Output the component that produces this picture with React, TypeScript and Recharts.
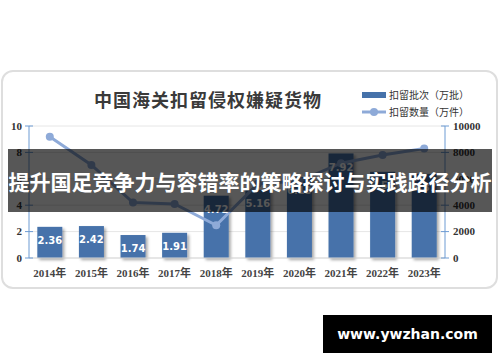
import { ComposedChart, Bar, Line, XAxis, YAxis, CartesianGrid, LabelList } from 'recharts';

const years = ['2014年', '2015年', '2016年', '2017年', '2018年', '2019年', '2020年', '2021年', '2022年', '2023年'];
const batches = [2.36, 2.42, 1.74, 1.91, 4.72, 5.16, 6.13, 7.92, 6.53, 6.37];
const pieces = [9190, 7050, 4200, 4100, 2480, 5620, 5830, 7180, 7800, 8300];
const leftTicks = [0, 2, 4, 6, 8, 10];
const rightTicks = [0, 2000, 4000, 6000, 8000, 10000];

const data = years.map((year, i) => ({ year, batches: batches[i], pieces: pieces[i] }));

const BAR = '#4672aa';
const LINE = '#8eaad8';
const AXIS = '#6d9bd3';
const serif = '"Liberation Serif", "DejaVu Serif", "Noto Sans CJK SC", serif';

const LeftTick = ({ x, y, payload }: any) => (
  <g>
    <line x1={x - 4} x2={x + 4} y1={y} y2={y} stroke={AXIS} />
    <text x={x - 7} y={y} dy="0.35em" textAnchor="end" fontSize={11} fontWeight="bold" fill="#333" fontFamily={serif}>
      {payload.value}
    </text>
  </g>
);

const RightTick = ({ x, y, payload }: any) => (
  <g>
    <line x1={x - 4} x2={x + 4} y1={y} y2={y} stroke={AXIS} />
    <text x={x + 8} y={y} dy="0.35em" textAnchor="start" fontSize={11} fontWeight="bold" fill="#333" fontFamily={serif}>
      {payload.value}
    </text>
  </g>
);

const YearTick = ({ x, y, payload }: any) => (
  <text x={x} y={y + 15} dy="0.35em" textAnchor="middle" fontSize={11} fontWeight="bold" fill="#444" fontFamily={serif}>
    {payload.value}
  </text>
);

const ShadowBar = (props: any) => {
  const { x, y, width, height } = props;
  return <rect x={x} y={y} width={width} height={height} fill={BAR} filter="url(#barShadow)" />;
};

const LegendBox = () => (
  <div
    style={{
      position: 'absolute',
      left: 362,
      top: 86,
      fontFamily: '"Noto Sans CJK SC", sans-serif',
      fontSize: 10,
      color: '#333',
      lineHeight: '17px',
    }}
  >
    <div style={{ display: 'flex', alignItems: 'center' }}>
      <span style={{ display: 'inline-block', width: 24, height: 6, background: BAR, marginRight: 3 }} />
      扣留批次（万批）
    </div>
    <div style={{ display: 'flex', alignItems: 'center' }}>
      <svg width={24} height={10} style={{ marginRight: 3 }}>
        <line x1={0} x2={24} y1={5} y2={5} stroke={LINE} strokeWidth={3} />
        <circle cx={12} cy={5} r={4} fill={LINE} />
      </svg>
      扣留数量（万件）
    </div>
  </div>
);

export default function App() {
  return (
    <div style={{ position: 'absolute', left: 0, top: 0, width: 500, height: 362, background: '#fff', overflow: 'hidden' }}>
      <div
        style={{
          position: 'absolute',
          left: 1,
          top: 70,
          width: 493,
          height: 215,
          border: '2px solid #dedede',
          borderRadius: 12,
        }}
      />
      <div
        style={{
          position: 'absolute',
          left: 93,
          top: 86,
          width: 230,
          textAlign: 'center',
          fontFamily: '"Noto Sans CJK SC", serif',
          fontWeight: 'bold',
          fontSize: 18,
          letterSpacing: 1,
          color: '#3a3a3a',
        }}
      >
        中国海关扣留侵权嫌疑货物
      </div>
      <LegendBox />
      <div style={{ position: 'absolute', left: 0, top: 0 }}>
        <ComposedChart width={500} height={362} data={data} margin={{ top: 126, right: 0, bottom: 74, left: 0 }} barCategoryGap="20%">
          <defs>
            <filter id="barShadow" x="-20%" y="-10%" width="150%" height="130%">
              <feDropShadow dx={2} dy={2} stdDeviation={1.5} floodColor="#000" floodOpacity={0.35} />
            </filter>
          </defs>
          <CartesianGrid vertical={false} stroke="#e6e6e6" yAxisId="left" />
          <XAxis dataKey="year" tickSize={0} tickMargin={0} tick={<YearTick />} stroke="#d9d9d9" height={30} interval={0} />
          <YAxis
            yAxisId="left"
            domain={[0, 10]}
            ticks={leftTicks}
            interval={0}
            width={29}
            tickSize={0}
            tickMargin={0}
            tick={<LeftTick />}
            axisLine={{ stroke: AXIS }}
            tickLine={false}
          />
          <YAxis
            yAxisId="right"
            orientation="right"
            domain={[0, 10000]}
            ticks={rightTicks}
            interval={0}
            width={55}
            tickSize={0}
            tickMargin={0}
            tick={<RightTick />}
            axisLine={{ stroke: AXIS }}
            tickLine={false}
          />
          <Bar yAxisId="left" dataKey="batches" fill={BAR} shape={<ShadowBar />} isAnimationActive={false}>
            <LabelList
              dataKey="batches"
              position="insideTop"
              offset={10}
              fill="#fff"
              fontSize={10}
              fontWeight="bold"
              fontFamily='"DejaVu Sans", sans-serif'
            />
          </Bar>
          <Line
            yAxisId="right"
            dataKey="pieces"
            stroke={LINE}
            strokeWidth={3}
            dot={{ r: 4, fill: LINE, stroke: LINE, strokeWidth: 0 }}
            isAnimationActive={false}
          />
        </ComposedChart>
      </div>
      <div
        style={{
          position: 'absolute',
          left: 8,
          top: 149,
          width: 484,
          height: 63,
          background: 'rgba(0,0,0,0.66)',
          color: '#fff',
          display: 'flex',
          alignItems: 'center',
          justifyContent: 'center',
          fontFamily: '"Noto Sans CJK SC", sans-serif',
          fontWeight: 'bold',
          fontSize: 21,
          whiteSpace: 'nowrap',
        }}
      >
        提升国足竞争力与容错率的策略探讨与实践路径分析
      </div>
      <div
        style={{
          position: 'absolute',
          left: 323,
          top: 315,
          width: 169,
          height: 38,
          background: '#000',
          color: '#fff',
          display: 'flex',
          alignItems: 'center',
          justifyContent: 'center',
          fontFamily: '"DejaVu Sans", Verdana, sans-serif',
          fontWeight: 'bold',
          fontSize: 14,
        }}
      >
        www.ywzhan.com
      </div>
    </div>
  );
}
